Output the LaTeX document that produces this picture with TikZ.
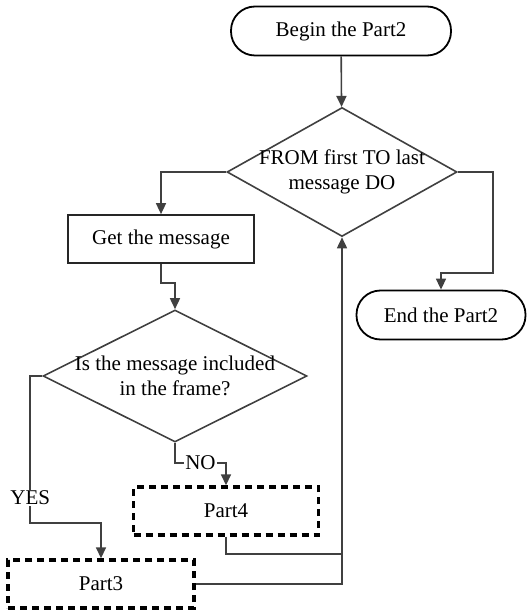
\documentclass[tikz,border=0pt]{standalone}
\usepackage{fontspec}
\setmainfont{Liberation Serif}
\usepackage{tikz}
\usetikzlibrary{calc,arrows.meta,shapes.geometric,positioning}
\definecolor{linegrey}{gray}{0.25}

\begin{document}
\begin{tikzpicture}[x=1pt,y=-1pt]

\tikzset{termnode/.style={font=\fontsize{21}{25}\selectfont,draw=black,line width=1.8pt,rounded corners=24pt,minimum width=220pt,minimum height=49pt,inner sep=0pt},
boxnode/.style={font=\fontsize{21}{25}\selectfont,draw=black!85,line width=1.7pt,minimum width=186pt,minimum height=48pt,inner sep=0pt},
partnode/.style={font=\fontsize{21}{25}\selectfont,draw=black,line width=3.4pt,dash pattern=on 7pt off 5pt,minimum width=185pt,minimum height=48pt,inner sep=0pt},
decnode/.style={shape=diamond,draw=linegrey,line width=1.6pt,inner sep=0pt},
arr/.style={draw=linegrey,line width=1.6pt,-{Triangle[length=11pt,width=10pt]}},
line/.style={draw=linegrey,line width=1.6pt},
lbl/.style={font=\fontsize{21}{25}\selectfont,align=center}}

\useasboundingbox (0,0) rectangle (527,612);

% Nodes
\node[termnode] (begin) at (341,31) {Begin the Part2};
\node[decnode,minimum width=230pt,minimum height=129pt,label={[lbl]center:FROM first TO last\\message DO}] (loop) at (342,172) {};
\node[boxnode] (get) at (161,239) {Get the message};
\node[decnode,minimum width=264pt,minimum height=132pt,label={[lbl]center:Is the message included\\in the frame?}] (test) at (175,376) {};
\node[termnode,minimum width=169pt] (end) at (441,315) {End the Part2};
\node[partnode] (part4) at (226,511) {Part4};
\node[partnode,minimum width=186pt] (part3) at (101,584) {Part3};
\coordinate (join) at ($(part4.south)+(0,17)$);

% Edges
\draw[arr] (begin) -- (loop);
\draw[arr] (loop.west) -| (get.north);
\draw[arr] (get.south) -- ++(0,19) -| (test.north);
\draw[arr] (loop.east) -| ++(35,101) -| (end.north);
\draw[arr] (test.west) -- ++(-12,0) -- ++(0,147) node[lbl,pos=0.83,fill=white,inner sep=1pt] {YES} -| (part3.north);
\draw[arr] (test.south) -- ++(0,20) -| node[lbl,pos=0.25,fill=white,inner sep=1pt] {NO} (part4.north);
\draw[line] (part4.south) -- (join) -- (join -| loop.south);
\draw[arr] (part3.east) -| (loop.south);

\end{tikzpicture}
\end{document}
